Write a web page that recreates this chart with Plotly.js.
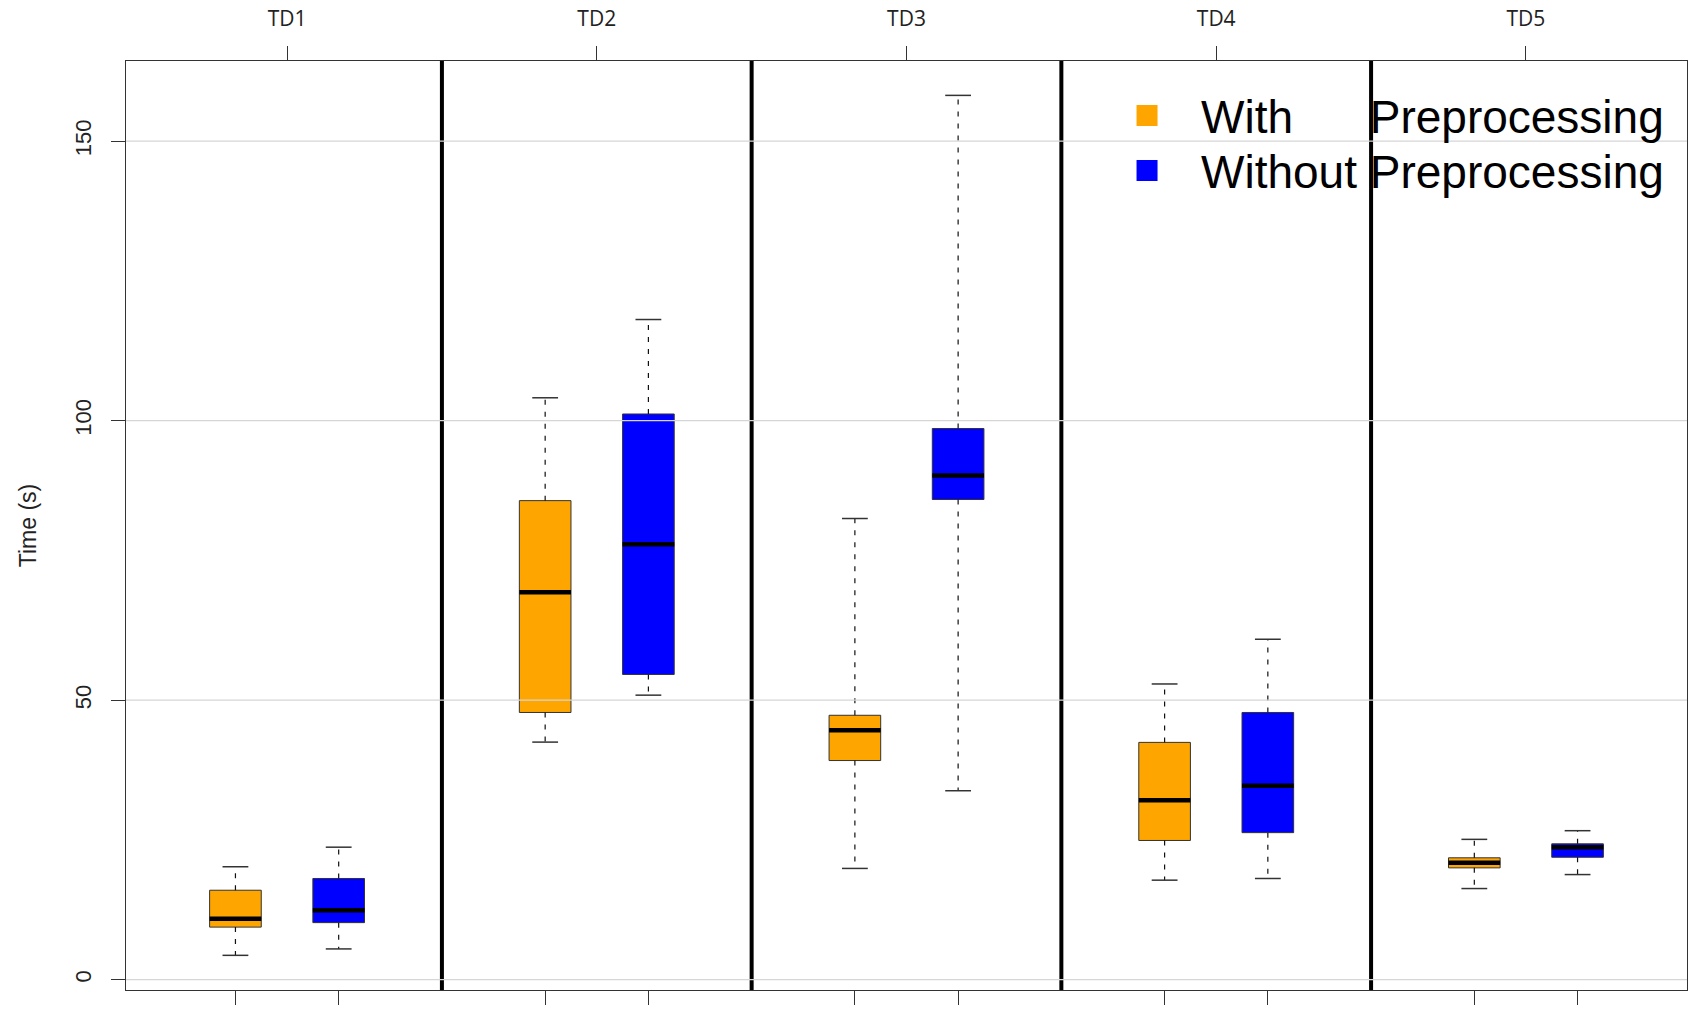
<!DOCTYPE html>
<html>
<head>
<meta charset="utf-8">
<script src="https://cdn.plot.ly/plotly-3.0.1.min.js"></script>
<style>html,body{margin:0;padding:0;background:#fff;}#chart{width:1692px;height:1019px;}</style>
</head>
<body>
<div id="chart"></div>
<script>
// ---- data ----
var groups = ["TD1", "TD2", "TD3", "TD4", "TD5"];
var seriesNames = ["With Preprocessing", "Without Preprocessing"];
var seriesColors = ["#FFA500", "#0000FF"];

// positions of the boxes on the x axis (R-style boxplot positions)
var posWith    = [1, 4, 7, 10, 13];
var posWithout = [2, 5, 8, 11, 14];

// With Preprocessing
var withLower  = [4.35, 42.5, 19.9, 17.8, 16.3];
var withQ1     = [9.4, 47.8, 39.2, 24.9, 20.0];
var withMedian = [10.9, 69.3, 44.6, 32.1, 20.9];
var withQ3     = [16.0, 85.7, 47.3, 42.45, 21.8];
var withUpper  = [20.2, 104.1, 82.5, 52.9, 25.1];

// Without Preprocessing
var woLower  = [5.5, 50.9, 33.8, 18.1, 18.8];
var woQ1     = [10.2, 54.6, 85.9, 26.3, 21.9];
var woMedian = [12.4, 77.9, 90.2, 34.7, 23.7];
var woQ3     = [18.1, 101.2, 98.6, 47.8, 24.3];
var woUpper  = [23.7, 118.1, 158.2, 60.9, 26.65];

var yTicks = [0, 50, 100, 150];
var panelBreaks = [3, 6, 9, 12];

// ---- build traces ----
var BOXW = 0.5, CAPW = 0.25;

function boxTrace(pos, q1, med, q3, color, name) {
  return {
    type: 'box', name: name, x: pos,
    q1: q1, median: med, q3: q3, lowerfence: q1, upperfence: q3,
    width: BOXW, whiskerwidth: 0,
    fillcolor: color, line: {color: '#333333', width: 1},
    boxpoints: false, showlegend: false, hoverinfo: 'skip'
  };
}
function segs(pos, a, b, half) {
  var x = [], y = [];
  for (var i = 0; i < pos.length; i++) {
    if (half === 0) { x.push(pos[i], pos[i], null); y.push(a[i], b[i], null); }
    else { x.push(pos[i] - half, pos[i] + half, null); y.push(a[i], a[i], null); }
  }
  return {x: x, y: y};
}
function lineTrace(s, color, width, dash) {
  return {type: 'scatter', mode: 'lines', x: s.x, y: s.y, showlegend: false, hoverinfo: 'skip',
          line: {color: color, width: width, dash: dash || 'solid'}};
}

var traces = [];
var sets = [
  [posWith, withLower, withQ1, withMedian, withQ3, withUpper, seriesColors[0], seriesNames[0]],
  [posWithout, woLower, woQ1, woMedian, woQ3, woUpper, seriesColors[1], seriesNames[1]]
];
sets.forEach(function (s) {
  traces.push(boxTrace(s[0], s[2], s[3], s[4], s[6], s[7]));
});
sets.forEach(function (s) {
  var p = s[0];
  var up = segs(p, s[4], s[5], 0), lo = segs(p, s[2], s[1], 0);
  traces.push(lineTrace({x: up.x.concat(lo.x), y: up.y.concat(lo.y)}, '#111111', 1.2, '5px,7px'));
  var cu = segs(p, s[5], null, CAPW / 2), cl = segs(p, s[1], null, CAPW / 2);
  traces.push(lineTrace({x: cu.x.concat(cl.x), y: cu.y.concat(cl.y)}, '#333333', 1.5));
  traces.push(lineTrace(segs(p, s[3], null, BOXW / 2), '#000000', 4.5));
});
// legend entries
seriesNames.forEach(function (n, i) {
  var label = i === 0 ? n.replace(' ', '\u00A0\u00A0\u00A0\u00A0\u00A0\u00A0') : n;
  traces.push({type: 'scatter', mode: 'markers', x: [null], y: [null], xaxis: 'x2',
    name: label, legend: i === 0 ? 'legend' : 'legend2', showlegend: true,
    marker: {symbol: 'square', size: 16, color: seriesColors[i], line: {color: seriesColors[i], width: 5}}});
});

var centers = posWith.map(function (p, i) { return (p + posWithout[i]) / 2; });
var xr = [-0.06, 15.06];

var shapes = [];
panelBreaks.forEach(function (b) {
  shapes.push({type: 'line', xref: 'x', yref: 'paper', x0: b, x1: b, y0: 0, y1: 1,
               line: {color: '#000', width: 4}, layer: 'above'});
});
yTicks.forEach(function (t) {
  shapes.push({type: 'line', xref: 'paper', yref: 'y', x0: 0, x1: 1, y0: t, y1: t,
               line: {color: '#d6d6d6', width: 1.2}, layer: 'above'});
});

var legendCommon = {
  xanchor: 'left', yanchor: 'middle', x: 0.6195,
  font: {family: 'Liberation Sans, Arial, sans-serif', size: 46, color: '#000'},
  itemwidth: 98, bgcolor: 'rgba(0,0,0,0)', borderwidth: 0
};

var layout = {
  width: 1692, height: 1019,
  margin: {l: 126, r: 5, t: 61, b: 29},
  paper_bgcolor: '#fff', plot_bgcolor: '#fff',
  boxmode: 'overlay',
  showlegend: true,
  legend: Object.assign({}, legendCommon, {y: 0.9413}),
  legend2: Object.assign({}, legendCommon, {y: 0.8821}),
  xaxis: {
    range: xr, tickmode: 'array', tickvals: posWith.concat(posWithout),
    showticklabels: false, ticks: 'outside', ticklen: 14, tickcolor: '#333', tickwidth: 1,
    showgrid: false, zeroline: false, showline: true, mirror: true, linecolor: '#333', linewidth: 1.2,
    fixedrange: true
  },
  xaxis2: {
    overlaying: 'x', side: 'top', anchor: 'y', range: xr,
    tickmode: 'array', tickvals: centers, ticktext: groups,
    ticks: 'outside', ticklen: 14, tickcolor: '#333', tickwidth: 1,
    tickfont: {family: 'Open Sans, sans-serif', size: 21, color: '#222'},
    ticklabelstandoff: 12,
    showgrid: false, zeroline: false, showline: false, fixedrange: true
  },
  yaxis: {
    range: [-1.85, 164.35], tickmode: 'array', tickvals: yTicks,
    ticks: 'outside', ticklen: 14, tickcolor: '#333', tickwidth: 1, tickangle: -90,
    tickfont: {family: 'Liberation Sans, Arial, sans-serif', size: 22, color: '#222'},
    ticklabelstandoff: 11,
    showgrid: false, zeroline: false, showline: true, mirror: true, linecolor: '#333', linewidth: 1.2,
    title: {text: 'Time (s)', font: {family: 'Liberation Sans, Arial, sans-serif', size: 23, color: '#222'}, standoff: 28},
    fixedrange: true
  },
  shapes: shapes
};

Plotly.newPlot('chart', traces, layout, {displayModeBar: false, staticPlot: true});
</script>
</body>
</html>
